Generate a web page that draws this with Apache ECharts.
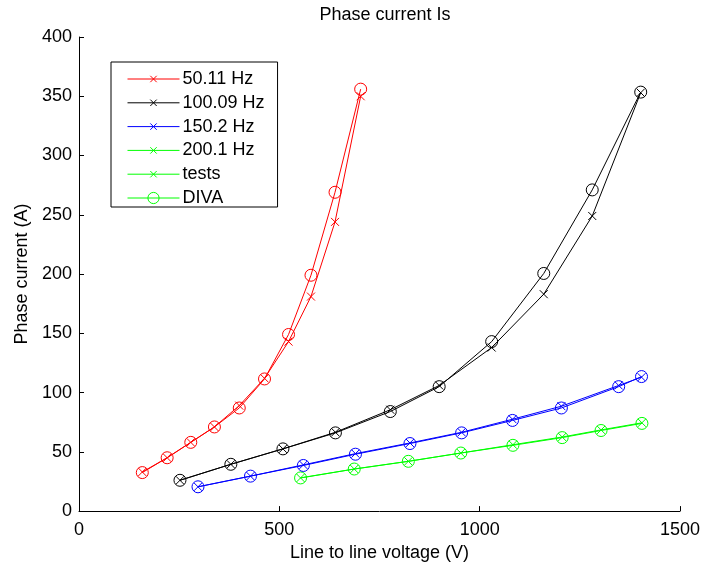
<!DOCTYPE html>
<html>
<head>
<meta charset="utf-8">
<script src="https://cdn.jsdelivr.net/npm/echarts@6/dist/echarts.min.js"></script>
<style>
html,body{margin:0;padding:0;background:#fff;}
#chart{width:703px;height:567px;}
</style>
</head>
<body>
<div id="chart"></div>
<script>
// Data
var legendNames = ['50.11 Hz', '100.09 Hz', '150.2 Hz', '200.1 Hz', 'tests', 'DIVA'];

var redV = [158, 220, 279, 338, 400, 463, 523, 579, 639, 703];
var redTests = [33, 45, 58, 71, 89, 112, 143, 181, 244, 350];
var redDiva = [32.5, 45, 58, 71, 87, 111.5, 149, 199, 269, 356];

var blackV = [252, 379, 509, 640, 777, 899, 1030, 1160, 1281, 1402];
var blackTests = [26, 39.5, 52.5, 66.5, 85.5, 106, 138, 183, 249, 353];
var blackDiva = [26, 39.5, 52.5, 66, 84, 105, 143, 200.5, 271, 353.5];

var blueV = [297, 428, 560, 690, 826, 955, 1082, 1204, 1347, 1404];
var blueTests = [20.5, 29.5, 39, 48.5, 57.5, 66.5, 77.5, 88.5, 106, 113];
var blueDiva = [20.5, 29.5, 38.5, 48, 57, 66, 76.5, 87, 105, 113.5];

var greenV = [553, 687, 822, 953, 1083, 1206, 1303, 1405];
var greenTests = [28, 35.5, 42, 49, 56, 62.5, 68.5, 74.5];
var greenDiva = [28, 35.5, 42, 49, 55.5, 62, 68, 74];

var xTicks = [0, 500, 1000, 1500];
var yTicks = [0, 50, 100, 150, 200, 250, 300, 350, 400];

function pairs(xs, ys) { return xs.map(function (x, i) { return [x, ys[i]]; }); }

// cross glyph padded inside a 14x14 box so it draws smaller than the circle
var CROSS = 'path://M0,0M3,3L11,11M3,11L11,3M14,14';
var FONT = 'Liberation Sans, Arial, sans-serif';

function mk(name, color, xs, ys, kind) {
  var isCross = kind === 'x';
  return {
    name: name,
    type: 'line',
    data: (xs && ys) ? pairs(xs, ys) : [],
    symbol: isCross ? CROSS : 'circle',
    symbolSize: isCross ? 14 : 12,
    showAllSymbol: true,
    animation: false,
    lineStyle: { color: color, width: 1 },
    itemStyle: { color: 'transparent', borderColor: color, borderWidth: 1 },
    emphasis: { disabled: true }
  };
}

var series = [
  mk('50.11 Hz', '#ff0000', redV, redTests, 'x'),
  mk('100.09 Hz', '#000000', blackV, blackTests, 'x'),
  mk('150.2 Hz', '#0000ff', blueV, blueTests, 'x'),
  mk('200.1 Hz', '#00ff00', greenV, greenTests, 'x'),
  mk('tests', '#00ff00', null, null, 'x'),
  mk('DIVA', '#00ff00', greenV, greenDiva, 'o'),
  mk('DIVA 50.11', '#ff0000', redV, redDiva, 'o'),
  mk('DIVA 100.09', '#000000', blackV, blackDiva, 'o'),
  mk('DIVA 150.2', '#0000ff', blueV, blueDiva, 'o')
];

var chart = echarts.init(document.getElementById('chart'), null, { renderer: 'canvas' });
chart.setOption({
  backgroundColor: '#fff',
  animation: false,
  title: {
    text: 'Phase current Is',
    left: 380, textAlign: 'center', top: 1,
    textStyle: { fontFamily: FONT, fontSize: 18, fontWeight: 'normal', color: '#000' }
  },
  grid: { left: 79, right: 21, top: 37, bottom: 55, containLabel: false },
  legend: {
    data: legendNames,
    orient: 'vertical',
    left: 111, top: 62,
    padding: [8, 13, 0, 16],
    itemWidth: 52, itemHeight: 14, itemGap: 5.8,
    borderColor: '#000', borderWidth: 1, borderRadius: 0,
    backgroundColor: '#fff',
    selectedMode: false,
    lineStyle: { width: 1 },
    itemStyle: { borderWidth: 1 },
    textStyle: { fontFamily: FONT, fontSize: 18, color: '#000', lineHeight: 18, padding: [0, 0, 0, -2] }
  },
  xAxis: {
    type: 'value', min: 0, max: 1500, interval: 500,
    name: 'Line to line voltage (V)', nameLocation: 'middle', nameGap: 30,
    nameTextStyle: { fontFamily: FONT, fontSize: 18, color: '#000' },
    axisLine: { show: true, lineStyle: { color: '#000', width: 1 } },
    axisTick: { show: true, inside: true, length: 5, lineStyle: { color: '#000' } },
    axisLabel: { fontFamily: FONT, fontSize: 18, color: '#000', margin: 10,
      formatter: function (v) { return xTicks.indexOf(v) >= 0 ? String(v) : ''; } },
    splitLine: { show: false }
  },
  yAxis: {
    type: 'value', min: 0, max: 400, interval: 50,
    name: 'Phase current (A)', nameLocation: 'middle', nameGap: 48, nameRotate: 90,
    nameTextStyle: { fontFamily: FONT, fontSize: 18, color: '#000' },
    axisLine: { show: true, lineStyle: { color: '#000', width: 1 } },
    axisTick: { show: true, inside: true, length: 5, lineStyle: { color: '#000' } },
    axisLabel: { fontFamily: FONT, fontSize: 18, color: '#000', margin: 7,
      formatter: function (v) { return yTicks.indexOf(v) >= 0 ? String(v) : ''; } },
    splitLine: { show: false }
  },
  series: series
});
</script>
</body>
</html>
